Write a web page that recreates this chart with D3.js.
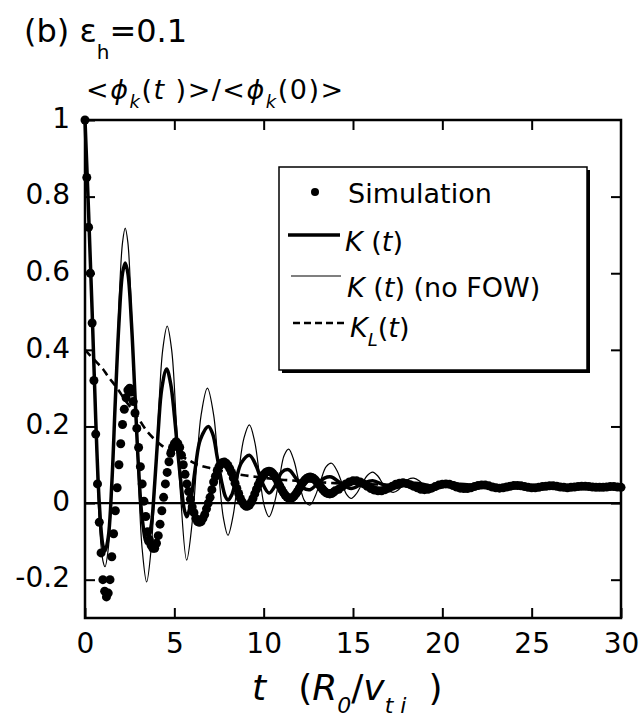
<!DOCTYPE html>
<html>
<head>
<meta charset="utf-8">
<script src="https://cdn.jsdelivr.net/npm/d3@7"></script>
<style>
  body { margin: 0; background: #fff; }
  svg text { font-family: "DejaVu Sans", sans-serif; fill: #000; }
</style>
</head>
<body>
<div class="chart"></div>
<script>
// plot frame in pixels
var svgWidth = 642;
var svgHeight = 722;
var margin = {top: 120, right: 21, bottom: 104, left: 85};
var width = svgWidth - margin.left - margin.right;
var height = svgHeight - margin.top - margin.bottom;

// axis ticks
var xTicks = [0, 5, 10, 15, 20, 25, 30];
var yTicks = [-0.2, 0, 0.2, 0.4, 0.6, 0.8, 1];
var yTickLabels = ["-0.2", "0", "0.2", "0.4", "0.6", "0.8", "1"];

// Simulation, t = 0 .. 14 every 0.1
var simEarlyStart = 0, simEarlyStep = 0.1;
var simEarly = [
  1.0, 0.85, 0.72, 0.60, 0.47, 0.32, 0.18, 0.05, -0.05, -0.13,
  -0.20, -0.23, -0.245, -0.235, -0.20, -0.14, -0.08, -0.02, 0.04, 0.10,
  0.155, 0.205, 0.245, 0.275, 0.295, 0.30, 0.29, 0.265, 0.235, 0.195,
  0.145, 0.095, 0.05, 0.005, -0.035, -0.075, -0.095, -0.11, -0.118, -0.118,
  -0.105, -0.085, -0.055, -0.02, 0.015, 0.05, 0.08, 0.108, 0.13, 0.145,
  0.155, 0.16, 0.155, 0.145, 0.125, 0.10, 0.075, 0.05, 0.03, 0.01,
  -0.01, -0.025, -0.04, -0.048, -0.05, -0.048, -0.04, -0.03, -0.015, 0.0,
  0.015, 0.035, 0.055, 0.07, 0.085, 0.095, 0.102, 0.106, 0.107, 0.104,
  0.098, 0.09, 0.08, 0.066, 0.052, 0.038, 0.025, 0.012, 0.003, -0.004,
  -0.008, -0.008, -0.005, 0.002, 0.012, 0.024, 0.036, 0.048, 0.058, 0.067,
  0.074, 0.079, 0.082, 0.083, 0.082, 0.078, 0.072, 0.064, 0.055, 0.045,
  0.036, 0.028, 0.021, 0.016, 0.013, 0.012, 0.014, 0.018, 0.024, 0.031,
  0.039, 0.047, 0.054, 0.06, 0.064, 0.067, 0.068, 0.067, 0.064, 0.06,
  0.054, 0.048, 0.042, 0.036, 0.031, 0.027, 0.025, 0.024, 0.025, 0.028,
  0.032
];

// Simulation, t = 14.2 .. 30 every 0.2
var simLateStart = 14.2, simLateStep = 0.2;
var simLate = [
  0.036, 0.043, 0.05, 0.055, 0.058, 0.058, 0.055, 0.05, 0.044, 0.038,
  0.034, 0.032, 0.032, 0.035, 0.039, 0.044, 0.049, 0.052, 0.053, 0.051,
  0.048, 0.044, 0.04, 0.036, 0.035, 0.036, 0.039, 0.043, 0.047, 0.049,
  0.05, 0.049, 0.046, 0.042, 0.039, 0.038, 0.038, 0.04, 0.043, 0.046,
  0.047, 0.047, 0.045, 0.042, 0.04, 0.039, 0.04, 0.042, 0.044, 0.046,
  0.046, 0.045, 0.043, 0.041, 0.04, 0.04, 0.041, 0.043, 0.044, 0.045,
  0.045, 0.044, 0.042, 0.041, 0.04, 0.041, 0.042, 0.043, 0.044, 0.044,
  0.043, 0.042, 0.041, 0.041, 0.041, 0.042, 0.043, 0.043, 0.042, 0.041
];

// K(t)
var kT = [0, 0.2, 0.4, 0.6, 0.8, 1.0, 1.12, 1.3, 1.5, 1.7, 1.9, 2.1, 2.25, 2.4, 2.6, 2.8, 3.0, 3.2, 3.45,
  3.7, 3.9, 4.1, 4.3, 4.57, 4.8, 5.0, 5.2, 5.4, 5.55, 5.7, 5.85, 6.0, 6.2, 6.45, 6.9,
  7.15, 7.4, 7.65, 7.85, 8.0, 8.2, 8.45, 8.75, 9.2, 9.6, 9.9, 10.3, 10.7, 11.0, 11.4, 11.8,
  12.2, 12.6, 13.0, 13.4, 13.8, 14.3, 14.9, 15.5, 16.1, 16.7, 17.3, 17.9, 18.5, 19.1, 19.7,
  20.3, 21, 22, 23, 24, 25, 26, 27, 28, 29, 30];
var kVal = [1.0, 0.76, 0.50, 0.22, 0.0, -0.11, -0.125, -0.09, 0.05, 0.27, 0.47, 0.6, 0.627, 0.6, 0.47, 0.28, 0.09, -0.04, -0.105,
  -0.06, 0.05, 0.19, 0.3, 0.35, 0.31, 0.23, 0.13, 0.04, -0.015, -0.036, -0.015, 0.03, 0.1, 0.165, 0.2,
  0.18, 0.12, 0.055, 0.018, 0.008, 0.02, 0.06, 0.105, 0.125, 0.095, 0.055, 0.026, 0.05, 0.08, 0.087, 0.065,
  0.04, 0.035, 0.05, 0.065, 0.068, 0.052, 0.038, 0.05, 0.058, 0.048, 0.04, 0.047, 0.052, 0.047, 0.042,
  0.046, 0.049, 0.045, 0.044, 0.046, 0.045, 0.044, 0.045, 0.045, 0.045, 0.045];

// K(t) without FOW
var nfT = [0, 0.2, 0.4, 0.6, 0.8, 1.0, 1.12, 1.3, 1.5, 1.7, 1.9, 2.1, 2.25, 2.4, 2.6, 2.8, 3.0, 3.2, 3.45,
  3.7, 3.9, 4.1, 4.35, 4.6, 4.85, 5.1, 5.35, 5.69, 6.0, 6.25, 6.5, 6.85, 7.2, 7.5, 7.75, 8.0,
  8.3, 8.6, 8.9, 9.2, 9.5, 9.8, 10.05, 10.3, 10.6, 10.9, 11.15, 11.4, 11.7, 12.0, 12.3, 12.6,
  12.9, 13.2, 13.5, 13.8, 14.1, 14.4, 14.65, 14.9, 15.2, 15.5, 15.8, 16.1, 16.4, 16.7, 17.0,
  17.25, 17.55, 17.85, 18.1, 18.4, 18.7, 19.0, 19.3, 19.6, 19.9, 20.2, 20.55, 20.9, 21.2, 21.5,
  21.8, 22.2, 22.6, 23.0, 23.5, 24.0, 24.6, 25.2, 26, 27, 28, 29, 30];
var nfVal = [1.0, 0.76, 0.5, 0.2, -0.05, -0.15, -0.166, -0.12, 0.03, 0.28, 0.52, 0.68, 0.718, 0.68, 0.5, 0.27, 0.05, -0.12, -0.206,
  -0.12, 0.03, 0.22, 0.4, 0.462, 0.4, 0.22, 0.02, -0.149, -0.05, 0.1, 0.23, 0.30, 0.23, 0.07, -0.04, -0.084,
  -0.03, 0.08, 0.17, 0.204, 0.16, 0.06, -0.01, -0.036, 0.0, 0.07, 0.125, 0.141, 0.11, 0.05, 0.005, -0.005,
  0.02, 0.06, 0.095, 0.104, 0.085, 0.05, 0.022, 0.012, 0.025, 0.05, 0.072, 0.081, 0.07, 0.048, 0.033,
  0.028, 0.035, 0.05, 0.062, 0.065, 0.058, 0.045, 0.036, 0.034, 0.04, 0.05, 0.056, 0.052, 0.044, 0.039,
  0.04, 0.047, 0.05, 0.047, 0.042, 0.044, 0.048, 0.045, 0.044, 0.046, 0.045, 0.045, 0.045];

// K_L(t)
var klT = [0, 0.5, 1.0, 1.3, 1.8, 2.3, 2.8, 3.5, 4.3, 5.0, 5.6, 6.3, 7.1, 8.0, 9.0, 10, 11, 12, 13, 14, 15, 16, 18, 20, 22, 25, 30];
var klVal = [0.40, 0.375, 0.35, 0.33, 0.3, 0.265, 0.235, 0.186, 0.15, 0.13, 0.117, 0.1, 0.09, 0.08, 0.072, 0.066, 0.061, 0.058, 0.055, 0.052, 0.05, 0.049, 0.047, 0.046, 0.045, 0.045, 0.045];

var svg = d3.select(".chart")
  .append("svg")
  .attr("width", svgWidth)
  .attr("height", svgHeight);

var chartGroup = svg.append("g")
  .attr("transform", `translate(${margin.left}, ${margin.top})`);

var xScale = d3.scaleLinear().domain([0, 30]).range([0, width]);
var yScale = d3.scaleLinear().domain([-0.3, 1]).range([height, 0]);

// zero line
chartGroup.append("line")
  .attr("x1", 0).attr("x2", width)
  .attr("y1", yScale(0)).attr("y2", yScale(0))
  .attr("stroke", "#000").attr("stroke-width", 2.2);

// axes, ticks pointing inward
function styleAxis(g) {
  g.select(".domain").remove();
  g.selectAll(".tick line").attr("stroke", "#000").attr("stroke-width", 2);
  g.selectAll(".tick text").style("font-size", "28px").attr("fill", "#000");
}

chartGroup.append("g")
  .attr("transform", `translate(0, ${height})`)
  .call(d3.axisBottom(xScale).tickValues(xTicks).tickSize(-10).tickPadding(15).tickFormat(d => String(d)))
  .call(styleAxis);

chartGroup.append("g")
  .call(d3.axisTop(xScale).tickValues(xTicks.slice(1, -1)).tickSize(-10).tickFormat(""))
  .call(styleAxis);

chartGroup.append("g")
  .call(d3.axisLeft(yScale).tickValues(yTicks).tickSize(-10).tickPadding(15)
    .tickFormat((d, i) => yTickLabels[i]))
  .call(styleAxis)
  .selectAll(".tick text").attr("dy", "0.26em");

chartGroup.append("g")
  .attr("transform", `translate(${width}, 0)`)
  .call(d3.axisRight(yScale).tickValues(yTicks.slice(0, -1)).tickSize(-10).tickFormat(""))
  .call(styleAxis);

// frame
chartGroup.append("rect")
  .attr("width", width).attr("height", height)
  .attr("fill", "none").attr("stroke", "#000").attr("stroke-width", 2.5);

// curves
var line = d3.line()
  .x(d => xScale(d[0]))
  .y(d => yScale(d[1]))
  .curve(d3.curveCatmullRom.alpha(0.5));

chartGroup.append("path")
  .datum(nfT.map((t, i) => [t, nfVal[i]]))
  .attr("d", line)
  .attr("fill", "none").attr("stroke", "#000").attr("stroke-width", 1.2);

chartGroup.append("path")
  .datum(kT.map((t, i) => [t, kVal[i]]))
  .attr("d", line)
  .attr("fill", "none").attr("stroke", "#000").attr("stroke-width", 3.5);

chartGroup.append("path")
  .datum(klT.map((t, i) => [t, klVal[i]]))
  .attr("d", line)
  .attr("fill", "none").attr("stroke", "#000").attr("stroke-width", 2.6)
  .attr("stroke-dasharray", "8,5");

var simData = simEarly.map((v, i) => [simEarlyStart + i * simEarlyStep, v])
  .concat(simLate.map((v, i) => [simLateStart + i * simLateStep, v]));

chartGroup.selectAll("circle.sim")
  .data(simData)
  .enter()
  .append("circle")
  .classed("sim", true)
  .attr("cx", d => xScale(d[0]))
  .attr("cy", d => yScale(d[1]))
  .attr("r", 4.5)
  .attr("fill", "#000");

// legend box with drop shadow
var legend = svg.append("g").attr("transform", "translate(279, 167)");
legend.append("rect").attr("x", 3).attr("y", 3).attr("width", 308).attr("height", 203).attr("fill", "#000");
legend.append("rect").attr("width", 308).attr("height", 203)
  .attr("fill", "#fff").attr("stroke", "#000").attr("stroke-width", 1.5);

legend.append("circle").attr("cx", 36).attr("cy", 25).attr("r", 4).attr("fill", "#000");
legend.append("text").attr("x", 69).attr("y", 36).style("font-size", "27px").text("Simulation");

legend.append("line").attr("x1", 9).attr("x2", 61).attr("y1", 68).attr("y2", 68)
  .attr("stroke", "#000").attr("stroke-width", 3.5);
var t1 = legend.append("text").attr("x", 66).attr("y", 84).style("font-size", "27px");
t1.append("tspan").style("font-style", "italic").text("K");
t1.append("tspan").text(" (");
t1.append("tspan").style("font-style", "italic").text("t");
t1.append("tspan").text(")");

legend.append("line").attr("x1", 12).attr("x2", 62).attr("y1", 109).attr("y2", 109)
  .attr("stroke", "#000").attr("stroke-width", 1.2);
var t2 = legend.append("text").attr("x", 68).attr("y", 130).style("font-size", "27px");
t2.append("tspan").style("font-style", "italic").text("K");
t2.append("tspan").text(" (");
t2.append("tspan").style("font-style", "italic").text("t");
t2.append("tspan").text(") (no FOW)");

legend.append("line").attr("x1", 14).attr("x2", 69).attr("y1", 156).attr("y2", 156)
  .attr("stroke", "#000").attr("stroke-width", 2.6).attr("stroke-dasharray", "7,4");
var t3 = legend.append("text").attr("x", 71).attr("y", 170).style("font-size", "27px");
t3.append("tspan").style("font-style", "italic").text("K");
t3.append("tspan").attr("dy", 9).style("font-size", "18px").style("font-style", "italic").text("L");
t3.append("tspan").attr("dy", -9).text("(");
t3.append("tspan").style("font-style", "italic").text("t");
t3.append("tspan").text(")");

// title
var title = svg.append("text").attr("x", 24).attr("y", 42).style("font-size", "32px");
title.append("tspan").text("(b) ε");
title.append("tspan").attr("dy", 17).style("font-size", "20px").text("h");
title.append("tspan").attr("dy", -17).text("=0.1");

// y axis title
var ylab = svg.append("text").attr("x", 86).attr("y", 99)
  .style("font-size", "27px").style("letter-spacing", "1.5px");
ylab.append("tspan").text("<");
ylab.append("tspan").style("font-style", "italic").text("ϕ");
ylab.append("tspan").attr("dy", 9).style("font-size", "18px").style("font-style", "italic").text("k");
ylab.append("tspan").attr("dy", -9).text("(");
ylab.append("tspan").style("font-style", "italic").text("t ");
ylab.append("tspan").text(")>/<");
ylab.append("tspan").style("font-style", "italic").text("ϕ");
ylab.append("tspan").attr("dy", 9).style("font-size", "18px").style("font-style", "italic").text("k");
ylab.append("tspan").attr("dy", -9).text("(0)>");

// x axis title
var xlab = svg.append("text").attr("x", 252).attr("y", 700).style("font-size", "36px");
xlab.append("tspan").style("font-style", "italic").text("t");
xlab.append("tspan").attr("dx", 32).text("(");
xlab.append("tspan").style("font-style", "italic").text("R");
xlab.append("tspan").attr("dy", 13).style("font-size", "22px").style("font-style", "italic").text("0");
xlab.append("tspan").attr("dy", -13).text("/");
xlab.append("tspan").style("font-style", "italic").text("v");
xlab.append("tspan").attr("dy", 13).style("font-size", "22px").style("font-style", "italic").text("t i");
xlab.append("tspan").attr("dy", -13).attr("dx", 22).text(")");
</script>
</body>
</html>
